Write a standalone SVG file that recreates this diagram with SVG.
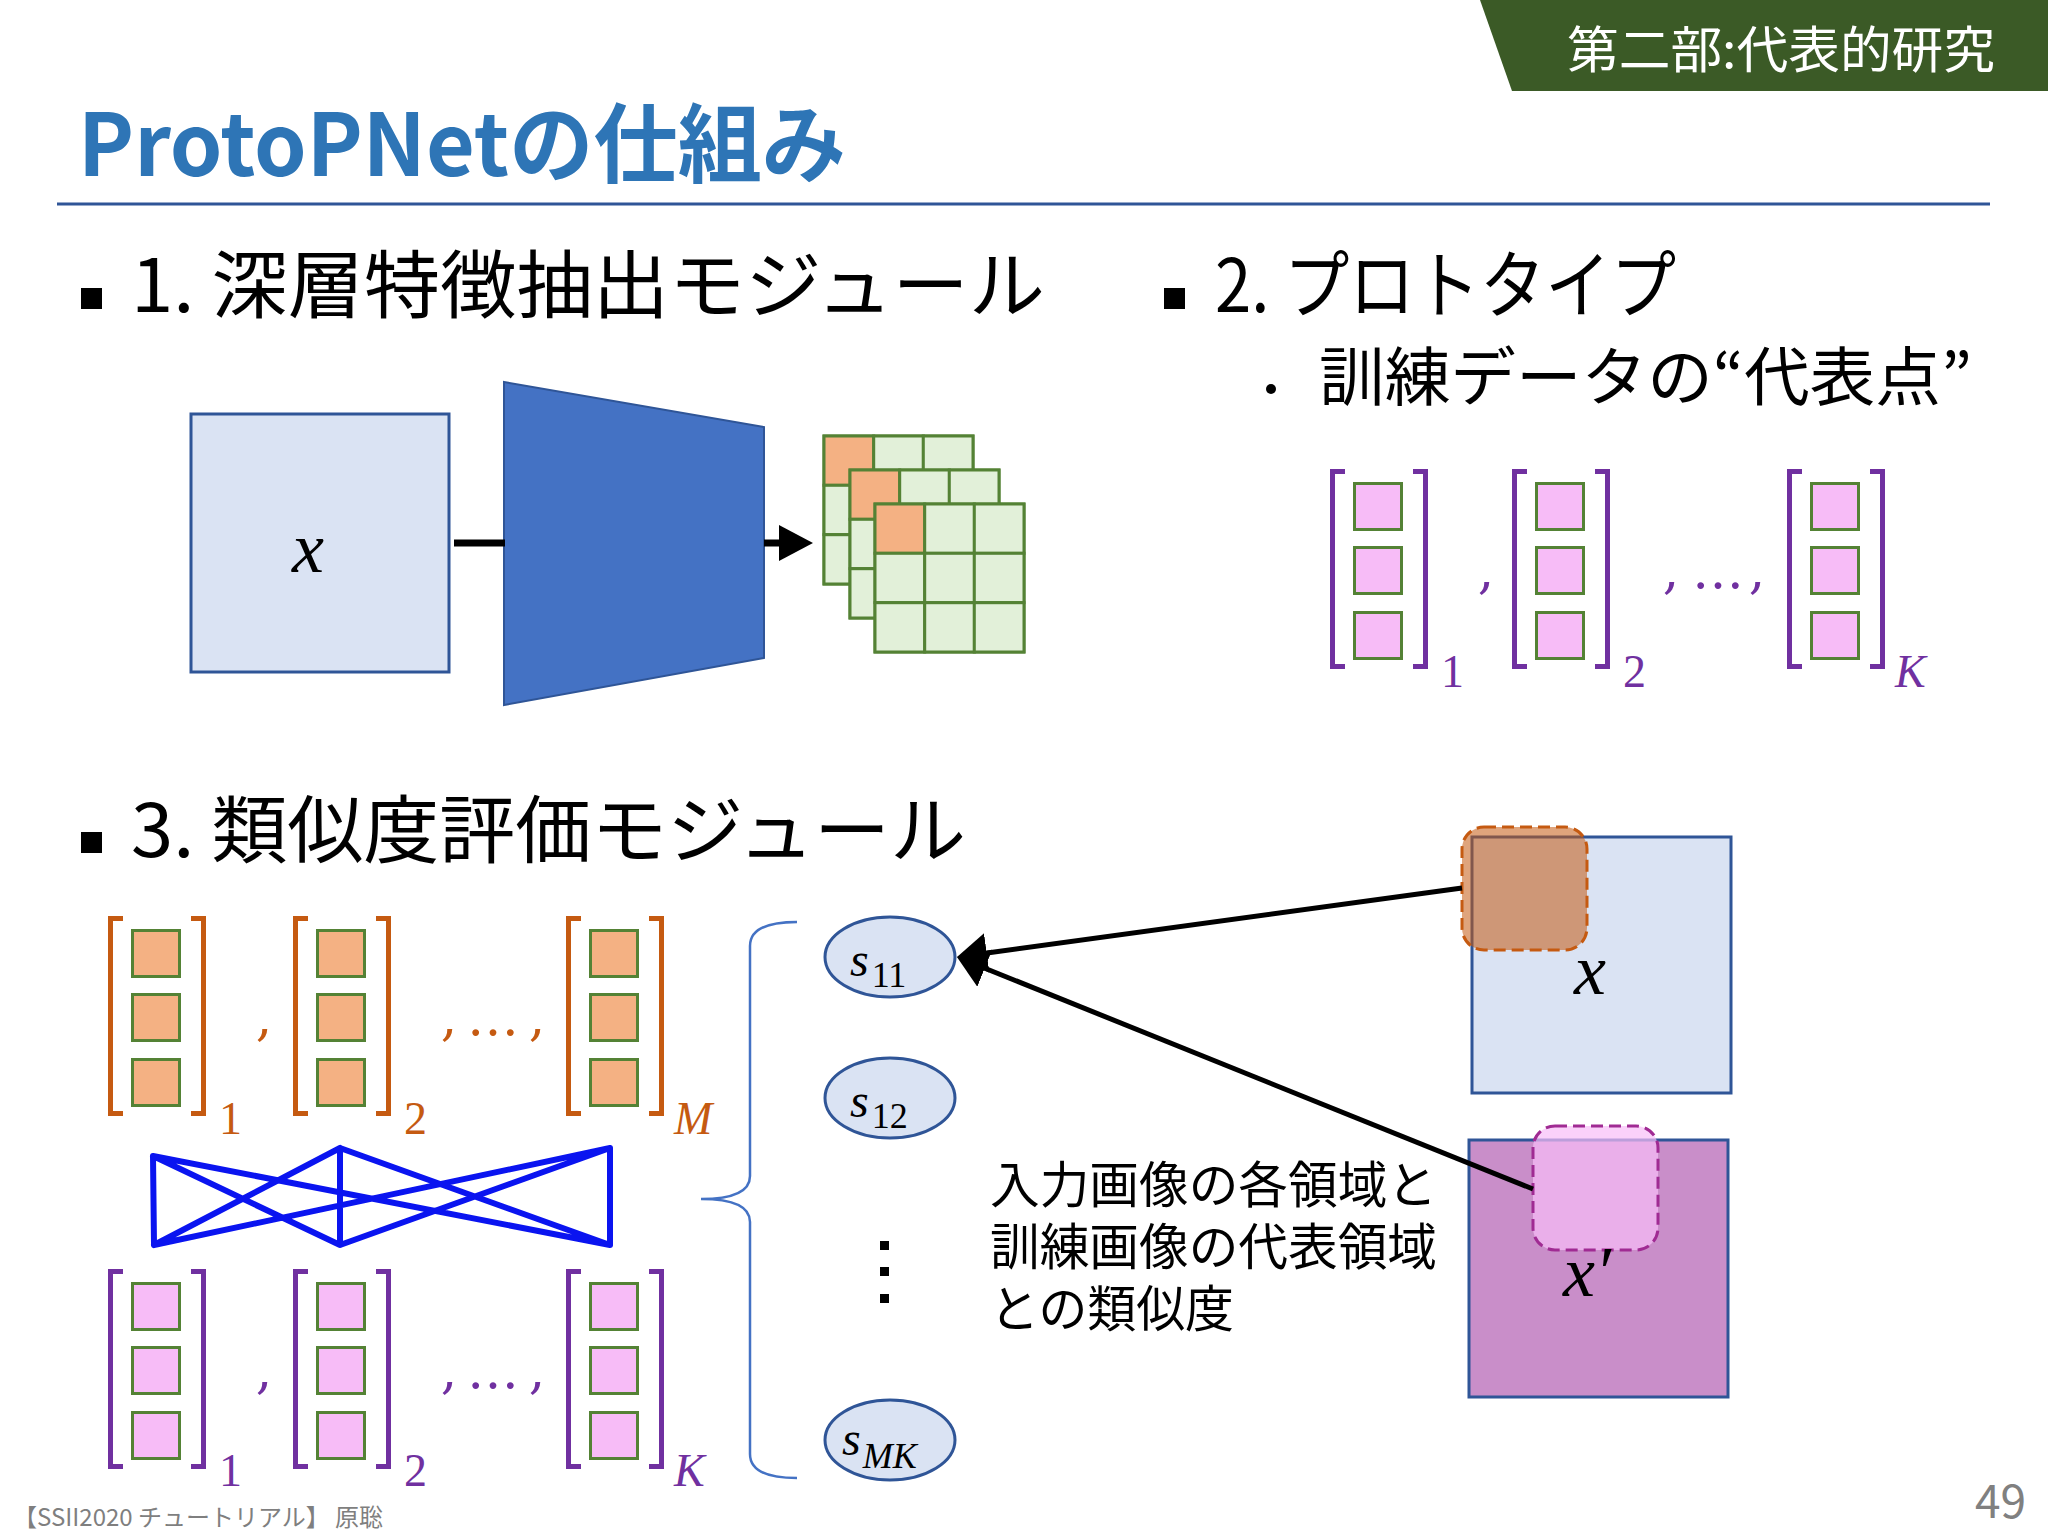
<svg xmlns="http://www.w3.org/2000/svg" width="2048" height="1536" viewBox="0 0 2048 1536">
<defs>
<style>
.jp{font-family:"Noto Sans CJK JP","Noto Sans",sans-serif;}
.head{font-size:74px;fill:#000}
.math{font-family:"Liberation Serif","DejaVu Serif",serif;font-style:italic}
.num{font-family:"Liberation Serif","DejaVu Serif",serif;font-style:normal}
.punc{font-family:"DejaVu Serif","Liberation Serif",serif;font-size:52px;text-anchor:middle}
.cell{fill:#E2F0D9;stroke:#548235;stroke-width:3}
.hot{fill:#F4B183;stroke:#548235;stroke-width:3}
.img{fill:#DAE3F3;stroke:#2F5597;stroke-width:3}
.sim{fill:#DAE3F3;stroke:#2F5597;stroke-width:3}
.fc{stroke:#0A14F0;stroke-width:6;stroke-linecap:round;fill:none}
.pur{fill:#7030A0}
.ora{fill:#C55A11}
.sq-p{fill:#F7BCF7;stroke:#548235;stroke-width:3}
.sq-o{fill:#F4B183;stroke:#548235;stroke-width:3}
</style>
<marker id="ah1" viewBox="0 0 34 36" refX="24" refY="18" markerWidth="34" markerHeight="36" markerUnits="userSpaceOnUse" orient="auto">
<path d="M0,0 L34,18 L0,36 Z" fill="#000"/>
</marker>
<marker id="ah2" viewBox="0 0 30 40" refX="18" refY="20" markerWidth="30" markerHeight="40" markerUnits="userSpaceOnUse" orient="auto">
<path d="M0,0 L30,20 L0,40 Z" fill="#000"/>
</marker>
<g id="vecP">
<path d="M15,2.5 H2.5 V197.5 H15 M83,2.5 H95.5 V197.5 H83" fill="none" stroke="#7030A0" stroke-width="5"/>
<rect class="sq-p" x="24.5" y="14.5" width="47" height="46"/>
<rect class="sq-p" x="24.5" y="78.5" width="47" height="46"/>
<rect class="sq-p" x="24.5" y="143.5" width="47" height="46"/>
</g>
<g id="vecO">
<path d="M15,2.5 H2.5 V197.5 H15 M83,2.5 H95.5 V197.5 H83" fill="none" stroke="#C55A11" stroke-width="5"/>
<rect class="sq-o" x="24.5" y="14.5" width="47" height="46"/>
<rect class="sq-o" x="24.5" y="78.5" width="47" height="46"/>
<rect class="sq-o" x="24.5" y="143.5" width="47" height="46"/>
</g>
<g id="grid">
<rect class="cell" x="0" y="0" width="149" height="148"/>
<rect class="hot" x="0" y="0" width="49.7" height="49.3"/>
<rect class="cell" x="49.7" y="0" width="49.7" height="49.3"/>
<rect class="cell" x="99.3" y="0" width="49.7" height="49.3"/>
<rect class="cell" x="0" y="49.3" width="49.7" height="49.3"/>
<rect class="cell" x="49.7" y="49.3" width="49.7" height="49.3"/>
<rect class="cell" x="99.3" y="49.3" width="49.7" height="49.3"/>
<rect class="cell" x="0" y="98.7" width="49.7" height="49.3"/>
<rect class="cell" x="49.7" y="98.7" width="49.7" height="49.3"/>
<rect class="cell" x="99.3" y="98.7" width="49.7" height="49.3"/>
</g>
</defs>

<rect x="0" y="0" width="2048" height="1536" fill="#FFFFFF"/>

<g id="header">
<polygon points="1480,0 2048,0 2048,91 1512,91" fill="#3B5A26"/>
<text class="jp" x="1567" y="68" font-size="50" fill="#FFFFFF" textLength="428" lengthAdjust="spacingAndGlyphs">第二部:代表的研究</text>
</g>

<g id="title">
<text class="jp" x="78" y="176" font-size="86" font-weight="bold" fill="#2E75B6" textLength="768" lengthAdjust="spacingAndGlyphs">ProtoPNetの仕組み</text>
<line x1="57" y1="204" x2="1990" y2="204" stroke="#2F5597" stroke-width="3"/>
</g>

<g id="bullet1">
<rect x="81" y="288" width="21" height="21" fill="#000"/>
<text class="jp head" x="131" y="312" textLength="914" lengthAdjust="spacingAndGlyphs">1. 深層特徴抽出モジュール</text>
</g>

<g id="bullet2">
<rect x="1164" y="288" width="21" height="21" fill="#000"/>
<text class="jp head" x="1215" y="312" textLength="461" lengthAdjust="spacingAndGlyphs">2. プロトタイプ</text>
<circle cx="1271" cy="389" r="5" fill="#000"/>
<text class="jp" x="1319" y="400" font-size="64" fill="#000" textLength="653" lengthAdjust="spacingAndGlyphs">訓練データの“代表点”</text>
</g>

<g id="bullet3">
<rect x="81" y="832" width="21" height="21" fill="#000"/>
<text class="jp head" x="131" y="857" textLength="835" lengthAdjust="spacingAndGlyphs">3. 類似度評価モジュール</text>
</g>

<g id="input-image">
<rect class="img" x="191" y="414" width="258" height="258"/>
<text class="math" x="308" y="572" font-size="72" text-anchor="middle" fill="#000">x</text>
</g>

<g id="encoder">
<polygon points="504,382 764,427 764,658 504,705" fill="#4472C4" stroke="#2F5597" stroke-width="2"/>
</g>

<g id="feature-maps">
<use href="#grid" x="824" y="436"/>
<use href="#grid" x="850" y="470"/>
<use href="#grid" x="875" y="504"/>
</g>

<g id="prototypes">
<use href="#vecP" x="1330" y="469"/>
<use href="#vecP" x="1512" y="469"/>
<use href="#vecP" x="1787" y="469"/>
<text class="num pur" x="1441" y="687" font-size="46">1</text>
<text class="num pur" x="1623" y="687" font-size="46">2</text>
<text class="math pur" x="1895" y="687" font-size="46">K</text>
<text class="punc pur" x="1486" y="588">,</text>
<text class="punc pur" x="1671" y="588">,</text>
<text class="punc pur" x="1718" y="588">…</text>
<text class="punc pur" x="1757" y="588">,</text>
</g>

<g id="patch-vectors">
<use href="#vecO" x="108" y="916"/>
<use href="#vecO" x="293" y="916"/>
<use href="#vecO" x="566" y="916"/>
<text class="num ora" x="219" y="1134" font-size="46">1</text>
<text class="num ora" x="404" y="1134" font-size="46">2</text>
<text class="math ora" x="674" y="1134" font-size="46">M</text>
<text class="punc ora" x="264" y="1035">,</text>
<text class="punc ora" x="449" y="1035">,</text>
<text class="punc ora" x="493" y="1035">…</text>
<text class="punc ora" x="537" y="1035">,</text>
</g>

<g id="fc-network">
<path class="fc" d="M153,1156 L154,1245 M153,1156 L340,1245 M153,1156 L610,1245 M340,1148 L154,1245 M340,1148 L340,1245 M340,1148 L610,1245 M610,1148 L154,1245 M610,1148 L340,1245 M610,1148 L610,1245"/>
</g>

<g id="prototype-vectors">
<use href="#vecP" x="108" y="1269"/>
<use href="#vecP" x="293" y="1269"/>
<use href="#vecP" x="566" y="1269"/>
<text class="num pur" x="219" y="1486" font-size="46">1</text>
<text class="num pur" x="404" y="1486" font-size="46">2</text>
<text class="math pur" x="674" y="1486" font-size="46">K</text>
<text class="punc pur" x="264" y="1388">,</text>
<text class="punc pur" x="449" y="1388">,</text>
<text class="punc pur" x="493" y="1388">…</text>
<text class="punc pur" x="537" y="1388">,</text>
</g>

<g id="brace">
<path d="M797,922 Q750,922 750,946 L750,1176 Q750,1199 701,1199 Q750,1199 750,1222 L750,1454 Q750,1478 797,1478" fill="none" stroke="#4472C4" stroke-width="2.5"/>
</g>

<g id="s11">
<ellipse class="sim" cx="890" cy="957" rx="65" ry="40"/>
<text class="math" x="850" y="976" font-size="48" fill="#000">s<tspan class="num" font-size="36" dx="3" dy="11">11</tspan></text>
</g>
<g id="s12">
<ellipse class="sim" cx="890" cy="1098" rx="65" ry="40"/>
<text class="math" x="850" y="1117" font-size="48" fill="#000">s<tspan class="num" font-size="36" dx="3" dy="11">12</tspan></text>
</g>
<g id="vdots">
<rect x="880" y="1241" width="9" height="9" fill="#000"/>
<rect x="880" y="1267" width="9" height="9" fill="#000"/>
<rect x="880" y="1294" width="9" height="9" fill="#000"/>
</g>
<g id="sMK">
<ellipse class="sim" cx="890" cy="1440" rx="65" ry="40"/>
<text class="math" x="842" y="1455" font-size="48" fill="#000">s<tspan font-size="36" dx="2" dy="13">MK</tspan></text>
</g>

<g id="description">
<text class="jp" font-size="50" fill="#000">
<tspan x="990" y="1203" textLength="447" lengthAdjust="spacingAndGlyphs">入力画像の各領域と</tspan>
<tspan x="990" y="1265" textLength="447" lengthAdjust="spacingAndGlyphs">訓練画像の代表領域</tspan>
<tspan x="990" y="1327" textLength="244" lengthAdjust="spacingAndGlyphs">との類似度</tspan>
</text>
</g>

<g id="image-x">
<rect class="img" x="1472" y="837" width="259" height="256"/>
<rect x="1462" y="827" width="125" height="123" rx="22" fill="#C55A11" fill-opacity="0.55" stroke="#C55A11" stroke-width="3" stroke-dasharray="12 6"/>
<text class="math" x="1590" y="994" font-size="72" text-anchor="middle" fill="#000">x</text>
</g>

<g id="image-x-prime">
<rect x="1469" y="1140" width="259" height="257" fill="#C98EC9" stroke="#2F5597" stroke-width="3"/>
<rect x="1533" y="1126" width="125" height="124" rx="22" fill="#F8BEF8" fill-opacity="0.7" stroke="#A02B93" stroke-width="3" stroke-dasharray="12 6"/>
<text class="math" x="1563" y="1296" font-size="72" fill="#000">x<tspan>′</tspan></text>
</g>

<g id="connectors" fill="none" stroke="#000">
<line x1="454" y1="543" x2="505" y2="543" stroke-width="7"/>
<line x1="764" y1="543" x2="803" y2="543" stroke-width="7" marker-end="url(#ah1)"/>
<line x1="1462" y1="888" x2="968.9" y2="955.4" stroke-width="5" marker-end="url(#ah2)"/>
<line x1="1533" y1="1189" x2="968.1" y2="961.5" stroke-width="5" marker-end="url(#ah2)"/>
</g>

<g id="footer">
<text class="jp" x="13" y="1526" font-size="24" fill="#7F7F7F">【SSII2020 チュートリアル】 原聡</text>
<text class="jp" x="2026" y="1518" font-size="46" fill="#808080" text-anchor="end">49</text>
</g>
</svg>
